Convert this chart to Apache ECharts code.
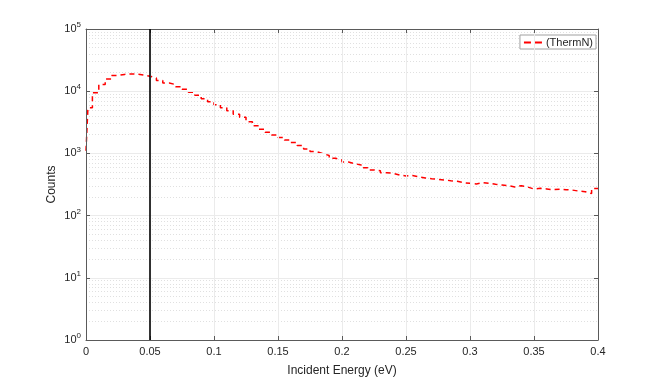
<!DOCTYPE html>
<html>
<head>
<meta charset="utf-8">
<script src="https://cdn.jsdelivr.net/npm/echarts@6/dist/echarts.min.js"></script>
<style>
html, body { margin: 0; padding: 0; background: #fff; }
#main { width: 664px; height: 382px; }
</style>
</head>
<body>
<div id="main"></div>
<script>
// bin left edges (eV) and counts per bin
var energies = [0, 0.0015, 0.005, 0.010, 0.015, 0.020, 0.025, 0.030, 0.035, 0.040, 0.045,
	0.050, 0.055, 0.060, 0.065, 0.070, 0.075, 0.080, 0.085, 0.090, 0.095,
	0.100, 0.105, 0.110, 0.115, 0.120, 0.125, 0.130, 0.135, 0.140, 0.145,
	0.150, 0.155, 0.160, 0.165, 0.170, 0.175, 0.180, 0.185, 0.190, 0.195,
	0.200, 0.205, 0.210, 0.215, 0.220, 0.225, 0.230, 0.235, 0.240, 0.245,
	0.250, 0.255, 0.260, 0.265, 0.270, 0.275, 0.280, 0.285, 0.290, 0.295,
	0.300, 0.305, 0.310, 0.315, 0.320, 0.325, 0.330, 0.335, 0.340, 0.345,
	0.350, 0.355, 0.360, 0.365, 0.370, 0.375, 0.380, 0.385, 0.390, 0.395, 0.400];
var counts = [1100, 5400, 9400, 12800, 15700, 17900, 18600, 18900, 18800, 18200, 17400,
	16300, 14900, 13500, 12800, 11800, 10700, 9600, 8600, 7570, 6780,
	6070, 5430, 4860, 4250, 3810, 3230, 2790, 2440, 2180, 1980,
	1800, 1640, 1500, 1340, 1180, 1070, 996, 925, 834, 783,
	727, 683, 651, 589, 541, 527, 489, 479, 450, 433,
	441, 422, 402, 392, 383, 374, 364, 356, 338, 330,
	323, 338, 330, 319, 311, 303, 288, 303, 288, 268,
	275, 268, 261, 266, 261, 257, 248, 242, 226, 272, 272];
var xTicks = [0, 0.05, 0.1, 0.15, 0.2, 0.25, 0.3, 0.35, 0.4];
var yDecades = [1, 10, 100, 1000, 10000, 100000];
var cutEnergy = 0.05;
var seriesName = '(ThermN)';

var font = '"Liberation Sans", Arial, Helvetica, sans-serif';

var histData = [];
for (var i = 0; i < energies.length; i++) {
	histData.push([energies[i], counts[i]]);
}

// minor log grid lines 2..9 x 10^k
var minorLines = [];
for (var d = 0; d < yDecades.length - 1; d++) {
	for (var m = 2; m <= 9; m++) {
		minorLines.push({ yAxis: m * yDecades[d] });
	}
}

var myChart = echarts.init(document.getElementById('main'), null, { renderer: 'canvas' });

var supLabel = function(v) {
	var e = Math.round(Math.log10(v));
	return '{b|10}{s|' + e + '}';
};

var axisGray = '#5a5a5a';

var option = {
	animation: false,
	backgroundColor: '#fff',
	textStyle: { fontFamily: font },
	grid: { left: 86, right: 66, top: 29, bottom: 42, containLabel: false },
	legend: {
		data: [{ name: seriesName, icon: 'path://M0,0h7v2h-7z M11,0h7v2h-7z' }],
		right: 68,
		top: 35,
		orient: 'vertical',
		itemWidth: 18,
		itemHeight: 2,
		padding: [2, 3, 1, 4],
		backgroundColor: '#fff',
		borderColor: '#a0a0a0',
		borderWidth: 1,
		borderRadius: 0,
		textStyle: { fontFamily: font, fontSize: 11, color: '#262626', padding: [0, 0, 0, -1] }
	},
	xAxis: [{
		type: 'value',
		min: 0,
		max: 0.4,
		interval: 0.05,
		name: 'Incident Energy (eV)',
		nameLocation: 'middle',
		nameGap: 25,
		nameMoveOverlap: false,
		nameTextStyle: { fontFamily: font, fontSize: 12, color: '#262626' },
		axisLine: { show: true, onZero: false, lineStyle: { color: axisGray, width: 1 } },
		axisTick: { show: true, inside: true, length: 4, lineStyle: { color: axisGray } },
		axisLabel: { fontFamily: font, fontSize: 11, color: '#262626', margin: 6 },
		splitLine: { show: true, lineStyle: { color: '#ebebeb', width: 1 } },
		z: 10
	}, {
		type: 'value',
		position: 'top',
		min: 0,
		max: 0.4,
		interval: 0.05,
		axisLine: { show: true, onZero: false, lineStyle: { color: axisGray, width: 1 } },
		axisTick: { show: true, inside: true, length: 4, lineStyle: { color: axisGray } },
		axisLabel: { show: false },
		splitLine: { show: false },
		z: 10
	}],
	yAxis: [{
		type: 'log',
		logBase: 10,
		min: 1,
		max: 100000,
		name: 'Counts',
		nameLocation: 'middle',
		nameGap: 28,
		nameMoveOverlap: false,
		nameRotate: 90,
		nameTextStyle: { fontFamily: font, fontSize: 12, color: '#262626' },
		axisLine: { show: true, onZero: false, lineStyle: { color: axisGray, width: 1 } },
		axisTick: { show: true, inside: true, length: 4, lineStyle: { color: axisGray } },
		axisLabel: {
			margin: 5,
			formatter: supLabel,
			rich: {
				b: { fontFamily: font, fontSize: 11, color: '#262626' },
				s: { fontFamily: font, fontSize: 8, color: '#262626', padding: [0, 0, 8, 0] }
			}
		},
		splitLine: { show: true, lineStyle: { color: '#ebebeb', width: 1 } },
		z: 10
	}, {
		type: 'log',
		logBase: 10,
		min: 1,
		max: 100000,
		position: 'right',
		axisLine: { show: true, onZero: false, lineStyle: { color: axisGray, width: 1 } },
		axisTick: { show: true, inside: true, length: 4, lineStyle: { color: axisGray } },
		axisLabel: { show: false },
		splitLine: { show: false },
		z: 10
	}],
	series: [{
		name: 'minor grid',
		type: 'line',
		data: [],
		silent: true,
		z: 0,
		markLine: {
			silent: true,
			z: 0,
			symbol: ['none', 'none'],
			label: { show: false },
			lineStyle: { color: '#e0e0e0', type: [1, 2], width: 1 },
			data: minorLines
		}
	}, {
		name: seriesName,
		type: 'line',
		step: 'end',
		data: histData,
		showSymbol: false,
		symbol: 'none',
		lineStyle: { color: '#ff0000', width: 1.5, type: [5, 4] },
		itemStyle: { color: '#ff0000' },
		z: 7
	}, {
		name: 'cut',
		type: 'line',
		data: [[cutEnergy, 1], [cutEnergy, 100000]],
		showSymbol: false,
		symbol: 'none',
		lineStyle: { color: '#000', width: 1.6, type: 'solid' },
		zlevel: 1,
		z: 8
	}]
};

myChart.setOption(option);
</script>
</body>
</html>
